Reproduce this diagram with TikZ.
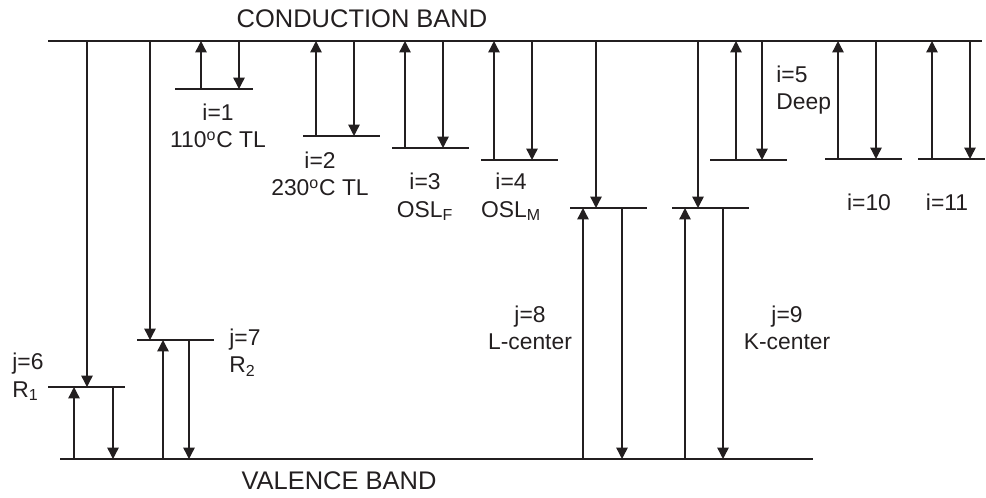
\documentclass[tikz,border=0pt]{standalone}
\usepackage{fontspec}
\setmainfont{Liberation Sans}
\usetikzlibrary{arrows.meta}
\definecolor{ink}{HTML}{231F20}
\tikzset{band/.style={draw=ink,line width=.8pt},
  lvl/.style={draw=ink,line width=.8pt},
  hop/.style={draw=ink,line width=.8pt,-{Triangle[length=6.5pt,width=6.5pt]}},
  lab/.style={font=\fontsize{13}{15.5}\selectfont,align=center,inner sep=0pt,text=ink},
  title/.style={font=\fontsize{14.5}{17}\selectfont,inner sep=0pt,text=ink}}
\begin{document}
\begin{tikzpicture}[x=.02cm,y=-.02cm]
\useasboundingbox (0,0) rectangle (986,497);
\coordinate (cbL) at (48,41); \coordinate (cbR) at (982,41);
\coordinate (vbL) at (60,459); \coordinate (vbR) at (813,459);
\draw[band] (cbL) -- (cbR);
\draw[band] (vbL) -- (vbR);
\node[title] (cbt) at (362,19) {CONDUCTION BAND};
\node[title] (vbt) at (339,481) {VALENCE BAND};
% electron traps
\foreach \n/\l/\r/\y/\u/\d in {i1/175/253/89/201/239,i2/303/380/136/316/354,i3/392/469/148/405/443,
  i4/481/558/160/494/532,i5/710/787/160/736/762,i10/825/902/159/838/876,i11/918/985/159/932/970}{
  \coordinate (l\n) at (\l,\y); \coordinate (r\n) at (\r,\y);
  \draw[lvl] (l\n) -- (r\n);
  \draw[hop] (\u,0 |- l\n) -- (\u,0 |- cbL);
  \draw[hop] (\d,0 |- cbL) -- (\d,0 |- l\n);}
% recombination centres
\foreach \n/\l/\r/\y/\u/\d/\c in {j6/48/125/387/74/113/87,j7/137/214/340/163/189/150,
  j8/570/647/208/583/622/596,j9/672/749/208/685/723/698}{
  \coordinate (l\n) at (\l,\y); \coordinate (r\n) at (\r,\y);
  \draw[lvl] (l\n) -- (r\n);
  \draw[hop] (\c,0 |- cbL) -- (\c,0 |- l\n);
  \draw[hop] (\u,0 |- vbL) -- (\u,0 |- l\n);
  \draw[hop] (\d,0 |- l\n) -- (\d,0 |- vbL);}
\node[lab] (ti1) at (218,126) {i=1\\110\textsuperscript{o}C TL};
\node[lab] (ti2) at (320,174) {i=2\\230\textsuperscript{o}C TL};
\node[lab] (ti3) at (425,197) {i=3\\OSL\textsubscript{F}};
\node[lab] (ti4) at (511,197) {i=4\\OSL\textsubscript{M}};
\node[lab,anchor=west,align=left] (ti5) at (776,90) {i=5\\Deep};
\node[lab] (ti10) at (869,202) {i=10};
\node[lab] (ti11) at (947,202) {i=11};
\node[lab,anchor=west,align=left] (tj6) at (12,377) {j=6\\R\textsubscript{1}};
\node[lab,anchor=west,align=left] (tj7) at (229,353) {j=7\\R\textsubscript{2}};
\node[lab] (tj8) at (530,328) {j=8\\L-center};
\node[lab] (tj9) at (787,328) {j=9\\K-center};
\end{tikzpicture}
\end{document}
